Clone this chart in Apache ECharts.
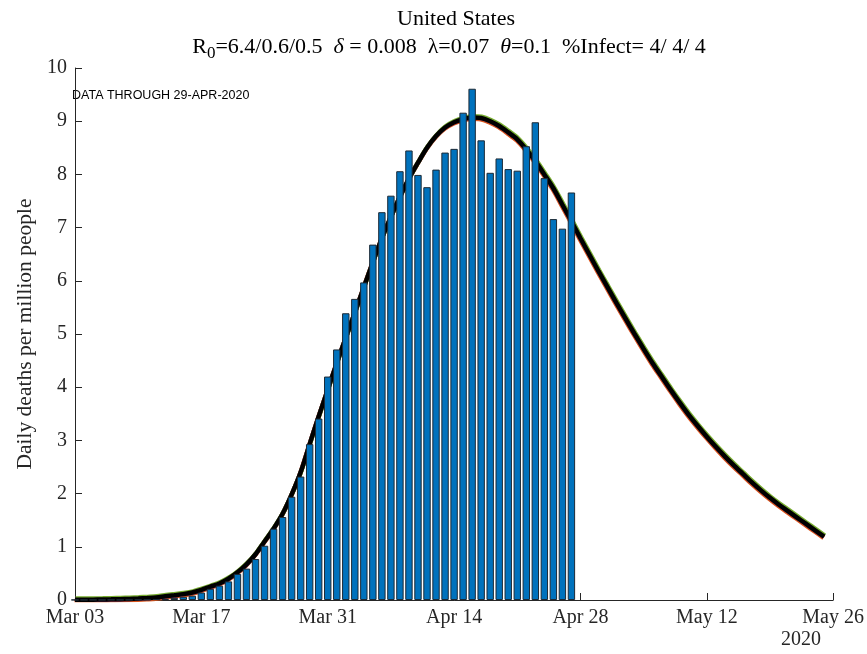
<!DOCTYPE html>
<html>
<head>
<meta charset="utf-8">
<script src="https://cdn.jsdelivr.net/npm/echarts@6/dist/echarts.min.js"></script>
<style>html,body{margin:0;padding:0;background:#fff;}#c{width:867px;height:654px;}</style>
</head>
<body>
<div id="c"></div>
<script>
// Day index 0 = Mar 03, 2020
var tickLabels = ['Mar 03', 'Mar 17', 'Mar 31', 'Apr 14', 'Apr 28', 'May 12', 'May 26'];
// Observed daily deaths per million (Mar 03 .. Apr 27)
var observed = [
  0.003, 0.003, 0.005, 0.003, 0.006, 0.005, 0.005, 0.01, 0.01, 0.015,
  0.02, 0.04, 0.06, 0.08, 0.14, 0.21, 0.27, 0.35, 0.49, 0.59,
  0.77, 1.02, 1.34, 1.56, 1.94, 2.32, 2.93, 3.41, 4.20, 4.71,
  5.39, 5.66, 5.97, 6.68, 7.29, 7.60, 8.06, 8.45, 7.99, 7.76,
  8.09, 8.41, 8.48, 9.16, 9.61, 8.64, 8.03, 8.30, 8.10, 8.07,
  8.53, 8.98, 7.93, 7.16, 6.98, 7.66
];
// Model curve (Mar 03 .. May 25)
var model = [
  0.004, 0.005, 0.007, 0.009, 0.012, 0.016, 0.021, 0.028, 0.036, 0.047,
  0.07, 0.09, 0.11, 0.14, 0.19, 0.25, 0.31, 0.40, 0.52, 0.67,
  0.86, 1.10, 1.34, 1.62, 1.98, 2.40, 2.93, 3.45, 3.95, 4.45,
  4.93, 5.40, 5.88, 6.35, 6.80, 7.20, 7.58, 7.92, 8.22, 8.50,
  8.72, 8.88, 8.98, 9.04, 9.07, 9.06, 9.00, 8.91, 8.79, 8.66,
  8.47, 8.25, 8.00, 7.74, 7.43, 7.12, 6.80, 6.49, 6.18, 5.88,
  5.58, 5.29, 5.00, 4.72, 4.45, 4.20, 3.95, 3.71, 3.48, 3.27,
  3.07, 2.88, 2.70, 2.53, 2.37, 2.21, 2.06, 1.92, 1.79, 1.67,
  1.55, 1.43, 1.31, 1.19
];

var barData = observed.map(function (v, i) { return [i, v]; });
var lineData = model.map(function (v, i) { return [i, v]; });

var serif = '"Liberation Serif", "DejaVu Serif", serif';
var axisCol = '#262626';

var chart = echarts.init(document.getElementById('c'), null, {renderer: 'canvas'});
chart.setOption({
  animation: false,
  backgroundColor: '#fff',
  title: [{
    text: 'United States',
    left: 451, top: 3, textAlign: 'center',
    textStyle: {fontFamily: serif, fontSize: 22, fontWeight: 'normal', color: '#000'}
  }, {
    text: '{n|R}{s|0}{n|=6.4/0.6/0.5  }{i|δ}{n| = 0.008  λ=0.07  }{i|θ}{n|=0.1  %Infect= 4/ 4/ 4}',
    left: 444, top: 27, textAlign: 'center',
    textStyle: {
      fontFamily: serif, fontSize: 22, fontWeight: 'normal', color: '#000',
      rich: {
        n: {fontFamily: serif, fontSize: 22, color: '#000'},
        i: {fontFamily: serif, fontSize: 22, fontStyle: 'italic', color: '#000'},
        s: {fontFamily: serif, fontSize: 17, color: '#000', padding: [13, 0, 0, 0]}
      }
    }
  }],
  grid: {left: 75, right: 30, top: 68, bottom: 54, containLabel: false},
  xAxis: {
    type: 'value', min: 0, max: 84, interval: 14,
    splitLine: {show: false},
    axisLine: {show: true, lineStyle: {color: axisCol, width: 1}},
    axisTick: {show: true, inside: true, length: 7, lineStyle: {color: axisCol}},
    axisLabel: {
      fontFamily: serif, fontSize: 20, color: axisCol, margin: 8,
      formatter: function (v) { return tickLabels[Math.round(v / 14)] || ''; }
    }
  },
  yAxis: {
    type: 'value', min: 0, max: 10, interval: 1,
    name: 'Daily deaths per million people',
    nameLocation: 'middle', nameGap: 33, nameRotate: 90,
    nameTextStyle: {fontFamily: serif, fontSize: 21.5, color: axisCol},
    splitLine: {show: false},
    axisLine: {show: true, lineStyle: {color: axisCol, width: 1}},
    axisTick: {show: true, inside: true, length: 7, lineStyle: {color: axisCol}},
    axisLabel: {fontFamily: serif, fontSize: 20, color: axisCol, margin: 8}
  },
  series: [{
    type: 'line',
    data: lineData,
    showSymbol: false, symbol: 'none', smooth: 0.3,
    lineStyle: {color: '#7E2F8E', width: 4.5, shadowColor: '#D95319', shadowBlur: 0, shadowOffsetX: -0.5, shadowOffsetY: 1.2},
    z: 2
  }, {
    type: 'line',
    data: lineData,
    showSymbol: false, symbol: 'none', smooth: 0.3,
    lineStyle: {color: '#000', width: 4.5, shadowColor: '#77AC30', shadowBlur: 0, shadowOffsetX: 0.6, shadowOffsetY: -1.2},
    z: 3
  }, {
    type: 'bar',
    data: barData,
    barWidth: 7.4,
    itemStyle: {color: '#0072BD', borderColor: '#1c2a36', borderWidth: 1},
    z: 4
  }],
  graphic: [{
    type: 'text', left: 72, top: 89,
    style: {text: 'DATA THROUGH 29-APR-2020', font: '12.5px "Liberation Sans", Arial, sans-serif', fill: '#000'}
  }, {
    type: 'text', left: 781, top: 630,
    style: {text: '2020', font: '20px "Liberation Serif", serif', fill: axisCol}
  }]
});
</script>
</body>
</html>
